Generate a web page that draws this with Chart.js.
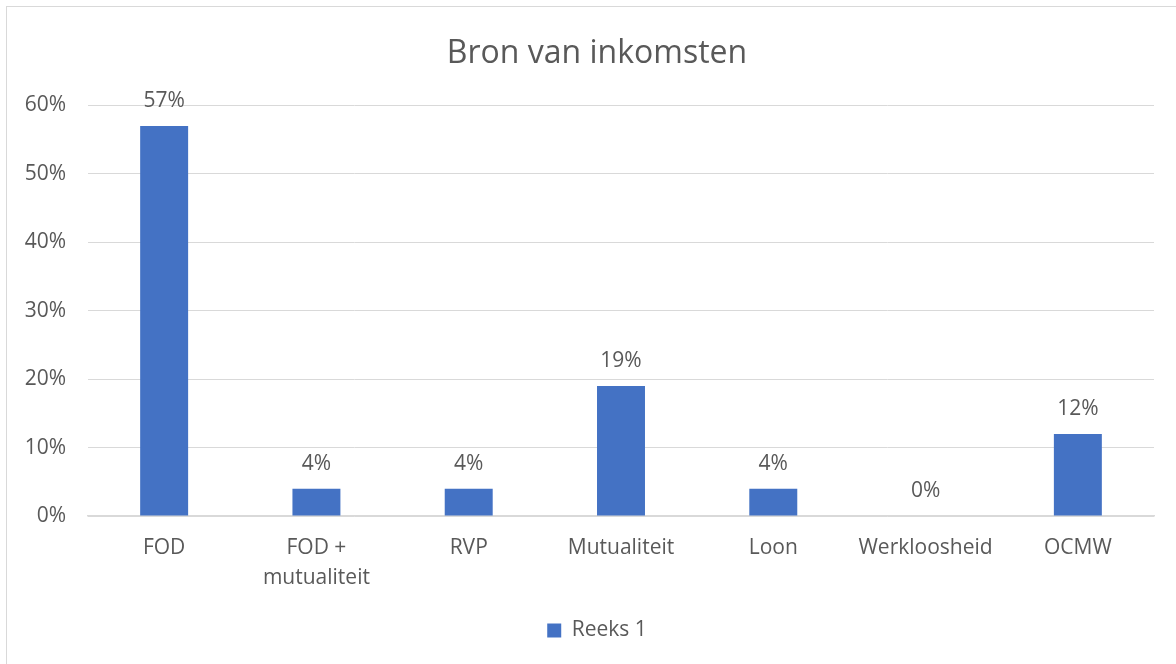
<!DOCTYPE html>
<html>
<head>
<meta charset="utf-8">
<script src="https://cdn.jsdelivr.net/npm/chart.js@4"></script>
<style>
  html, body { margin: 0; padding: 0; background: #fff; }
  #wrap { width: 1176px; height: 664px; position: relative; }
</style>
</head>
<body>
<div id="wrap"><canvas id="chart"></canvas></div>
<script>
const categories = ["FOD", ["FOD +", "mutualiteit"], "RVP", "Mutualiteit", "Loon", "Werkloosheid", "OCMW"];
const seriesName = "Reeks 1";
const values = [57, 4, 4, 19, 4, 0, 12];
const yTicks = [0, 10, 20, 30, 40, 50, 60];

const textColor = "#595959";
const barColor = "#4472C4";
const fontFamily = "'Open Sans', Lato, sans-serif";

// light frame around the chart, like the office chart border
const framePlugin = {
  id: "frame",
  beforeDraw(chart) {
    const ctx = chart.ctx;
    ctx.save();
    ctx.fillStyle = "#fff";
    ctx.fillRect(0, 0, chart.width, chart.height);
    ctx.strokeStyle = "#d9d9d9";
    ctx.lineWidth = 1;
    ctx.strokeRect(6.5, 6.5, chart.width, chart.height);
    ctx.restore();
  }
};

// percent labels above each bar
const barLabels = {
  id: "barLabels",
  afterDatasetsDraw(chart) {
    const ctx = chart.ctx;
    const meta = chart.getDatasetMeta(0);
    ctx.save();
    ctx.font = `21px ${fontFamily}`;
    ctx.fillStyle = textColor;
    ctx.textAlign = "center";
    ctx.textBaseline = "middle";
    meta.data.forEach((bar, i) => {
      ctx.fillText(values[i] + "%", bar.x, bar.y - 25);
    });
    ctx.restore();
  }
};

new Chart(document.getElementById("chart"), {
  type: "bar",
  data: {
    labels: categories,
    datasets: [{
      label: seriesName,
      data: values,
      backgroundColor: barColor,
      borderWidth: 0,
      barPercentage: 0.315,
      categoryPercentage: 1
    }]
  },
  options: {
    responsive: true,
    maintainAspectRatio: false,
    animation: false,
    layout: { padding: { left: 40, right: 22, top: 0, bottom: 13 } },
    plugins: {
      title: {
        display: true,
        text: "Bron van inkomsten",
        color: textColor,
        font: { family: fontFamily, size: 32, weight: "normal" },
        padding: { top: 35, bottom: 32 }
      },
      legend: {
        position: "bottom",
        labels: {
          color: textColor,
          font: { family: fontFamily, size: 21 },
          boxWidth: 14,
          boxHeight: 14,
          padding: 10
        }
      },
      tooltip: { enabled: false }
    },
    scales: {
      x: {
        grid: { display: false, drawTicks: false },
        border: { color: "#d9d9d9", width: 1.5 },
        ticks: {
          color: textColor,
          font: { family: fontFamily, size: 21, lineHeight: 1.43 },
          padding: 17,
          maxRotation: 0,
          autoSkip: false
        },
        afterFit(scale) { scale.height = 94; }
      },
      y: {
        min: 0,
        max: 60,
        afterBuildTicks(scale) { scale.ticks = yTicks.map(v => ({ value: v })); },
        grid: { color: "#d9d9d9", drawTicks: false },
        border: { display: false },
        ticks: {
          color: textColor,
          font: { family: fontFamily, size: 21 },
          padding: 22,
          callback: v => v + "%"
        },
        afterFit(scale) {
          scale.width = 48;
          // labels hang left of the narrow axis box, so don't clip them
          scale._computeLabelArea = () => undefined;
        }
      }
    }
  },
  plugins: [framePlugin, barLabels]
});
</script>
</body>
</html>
